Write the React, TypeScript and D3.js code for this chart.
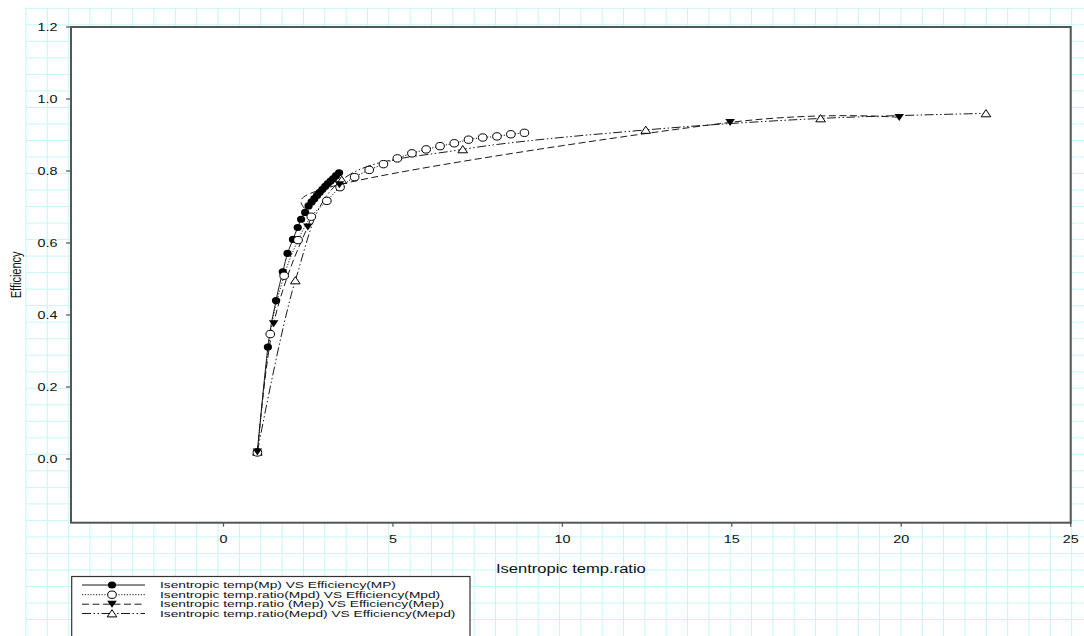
import React, { useEffect, useRef } from 'react';
import * as d3 from 'd3';

// Series values
const mpX = [1.0, 1.31, 1.55, 1.75, 1.89, 2.05, 2.19, 2.29, 2.41, 2.51, 2.60, 2.68, 2.76, 2.84, 2.92, 3.00, 3.08, 3.16, 3.24, 3.32, 3.41];
const mpY = [0.02, 0.311, 0.44, 0.52, 0.571, 0.61, 0.643, 0.666, 0.685, 0.703, 0.714, 0.723, 0.732, 0.741, 0.749, 0.757, 0.765, 0.772, 0.779, 0.787, 0.795];

const mpdX = [1.0, 1.38, 1.79, 2.2, 2.59, 3.05, 3.44, 3.87, 4.30, 4.72, 5.13, 5.56, 5.98, 6.39, 6.81, 7.23, 7.65, 8.07, 8.48, 8.88];
const mpdY = [0.018, 0.347, 0.509, 0.608, 0.673, 0.717, 0.755, 0.783, 0.803, 0.819, 0.835, 0.849, 0.860, 0.869, 0.877, 0.887, 0.893, 0.896, 0.902, 0.906];

const mepX = [1.0, 1.48, 2.49, 3.42, 14.95, 19.94];
const mepY = [0.02, 0.376, 0.645, 0.762, 0.935, 0.949];

const mepdX = [1.0, 2.12, 3.49, 7.06, 12.46, 17.62, 22.5];
const mepdY = [0.02, 0.496, 0.775, 0.860, 0.914, 0.946, 0.960];

const xTicks = [0, 5, 10, 15, 20, 25];
const yTicks = [0.0, 0.2, 0.4, 0.6, 0.8, 1.0, 1.2];

const legendLabels = [
  'Isentropic temp(Mp) VS Efficiency(MP)',
  'Isentropic temp.ratio(Mpd) VS Efficiency(Mpd)',
  'Isentropic temp.ratio (Mep) VS Efficiency(Mep)',
  'Isentropic temp.ratio(Mepd) VS Efficiency(Mepd)',
];

type Marker = 'filled' | 'open' | 'down' | 'up';

const FONT = '"Liberation Sans", Arial, Helvetica, sans-serif';
const SX = 1.38; // the reference is stretched horizontally

const App: React.FC = () => {
  const ref = useRef<SVGSVGElement>(null);

  useEffect(() => {
    if (!ref.current) return;
    const svg = d3.select(ref.current);
    svg.selectAll('*').remove();

    const W = 1084;
    const H = 636;
    const left = 71, top = 27, right = 1070.7, bottom = 522.7;

    const x = d3.scaleLinear().domain([-4.5, 25]).range([left, right]);
    const y = d3.scaleLinear().domain([-0.177, 1.2]).range([bottom, top]);

    svg.append('rect').attr('width', W).attr('height', H).attr('fill', '#fff');

    // cyan paper grid behind everything
    const grid = svg.append('g').attr('stroke', '#c4f7f7').attr('stroke-width', 1);
    d3.range(26, W, 21.34).forEach(gx => {
      grid.append('line').attr('x1', gx).attr('x2', gx).attr('y1', 8).attr('y2', H);
    });
    d3.range(8.3, H, 16.52).forEach(gy => {
      grid.append('line').attr('x1', 26).attr('x2', W).attr('y1', gy).attr('y2', gy);
    });

    // plot area (white, covering the grid)
    svg.append('rect')
      .attr('x', left).attr('y', top)
      .attr('width', right - left).attr('height', bottom - top)
      .attr('fill', '#fff');

    const text = (
      g: d3.Selection<any, unknown, null, undefined>,
      tx: number, ty: number, str: string,
      anchor: string, size: number, rotate = false, sx = SX
    ) => {
      g.append('text')
        .attr('transform', rotate
          ? `translate(${tx},${ty}) rotate(-90) scale(1,${sx})`
          : `translate(${tx},${ty}) scale(${sx},1)`)
        .attr('text-anchor', anchor)
        .attr('font-family', FONT)
        .attr('font-size', size)
        .attr('fill', '#111')
        .text(str);
    };

    const drawMarker = (
      g: d3.Selection<any, unknown, null, undefined>,
      m: Marker, mx: number, my: number
    ) => {
      if (m === 'filled') {
        g.append('ellipse').attr('cx', mx).attr('cy', my).attr('rx', 4.1).attr('ry', 3.6).attr('fill', '#000');
      } else if (m === 'open') {
        g.append('ellipse').attr('cx', mx).attr('cy', my).attr('rx', 4.3).attr('ry', 3.7)
          .attr('fill', '#fff').attr('stroke', '#000').attr('stroke-width', 1);
      } else if (m === 'down') {
        g.append('path').attr('transform', `translate(${mx},${my})`)
          .attr('d', 'M-4.8,-3.4L4.8,-3.4L0,3.6Z').attr('fill', '#000');
      } else {
        g.append('path').attr('transform', `translate(${mx},${my})`)
          .attr('d', 'M0,-3.8L4.8,3.4L-4.8,3.4Z')
          .attr('fill', '#fff').attr('stroke', '#000').attr('stroke-width', 1);
      }
    };

    const series: Array<{ xs: number[]; ys: number[]; dash: string | null; marker: Marker }> = [
      { xs: mpX, ys: mpY, dash: null, marker: 'filled' },
      { xs: mpdX, ys: mpdY, dash: '1.2,1.6', marker: 'open' },
      { xs: mepX, ys: mepY, dash: '7,3.5', marker: 'down' },
      { xs: mepdX, ys: mepdY, dash: '9,2.5,1.5,2.5,1.5,2.5', marker: 'up' },
    ];

    const line = d3.line<[number, number]>()
      .x(d => x(d[0]))
      .y(d => y(d[1]))
      .curve(d3.curveCardinal.tension(0));

    const lines = svg.append('g');
    series.forEach(s => {
      const pts = s.xs.map((v, i) => [v, s.ys[i]] as [number, number]);
      lines.append('path')
        .attr('d', line(pts))
        .attr('fill', 'none')
        .attr('stroke', '#1a1a1a')
        .attr('stroke-width', 1)
        .attr('stroke-dasharray', s.dash);
    });

    // markers: filled, up, open, down (so the start point reads like the reference)
    const markers = svg.append('g');
    [0, 3, 1, 2].forEach(k => {
      const s = series[k];
      s.xs.forEach((v, i) => drawMarker(markers, s.marker, x(v), y(s.ys[i])));
    });

    // frame
    svg.append('rect')
      .attr('x', left).attr('y', top)
      .attr('width', right - left).attr('height', bottom - top)
      .attr('fill', 'none').attr('stroke', '#555').attr('stroke-width', 2);

    // y axis
    const yAxis = svg.append('g');
    yTicks.forEach(t => {
      yAxis.append('line')
        .attr('x1', left - 5).attr('x2', left).attr('y1', y(t)).attr('y2', y(t))
        .attr('stroke', '#555').attr('stroke-width', 1.2);
      text(yAxis, 57.5, y(t) + 3.7, t.toFixed(1), 'end', 10.4);
    });

    // x axis
    const xAxis = svg.append('g');
    xTicks.forEach(t => {
      xAxis.append('line')
        .attr('x1', x(t)).attr('x2', x(t)).attr('y1', bottom).attr('y2', bottom + 4)
        .attr('stroke', '#555').attr('stroke-width', 1.2);
      text(xAxis, x(t), 543, String(t), 'middle', 10.4);
    });

    text(svg, (left + right) / 2, 573, 'Isentropic temp.ratio', 'middle', 12);
    text(svg, 21, (top + bottom) / 2, 'Efficiency', 'middle', 11, true);

    // legend
    const lg = svg.append('g');
    lg.append('rect')
      .attr('x', 71.7).attr('y', 576.5)
      .attr('width', 470 - 71.7).attr('height', 80)
      .attr('fill', '#fff').attr('stroke', '#333').attr('stroke-width', 1.2);
    const rowY = [585, 594.7, 604.2, 613.5];
    series.forEach((s, i) => {
      lg.append('line')
        .attr('x1', 82).attr('x2', 145).attr('y1', rowY[i]).attr('y2', rowY[i])
        .attr('stroke', '#1a1a1a').attr('stroke-width', 1)
        .attr('stroke-dasharray', s.dash);
      drawMarker(lg, s.marker, 112, rowY[i]);
      text(lg, 160, rowY[i] + 3.2, legendLabels[i], 'start', 8.8, false, 1.56);
    });
  }, []);

  return (
    <div style={{ position: 'absolute', left: 0, top: 0 }}>
      <svg ref={ref} width={1084} height={636} style={{ display: 'block' }} />
    </div>
  );
};

export default App;
